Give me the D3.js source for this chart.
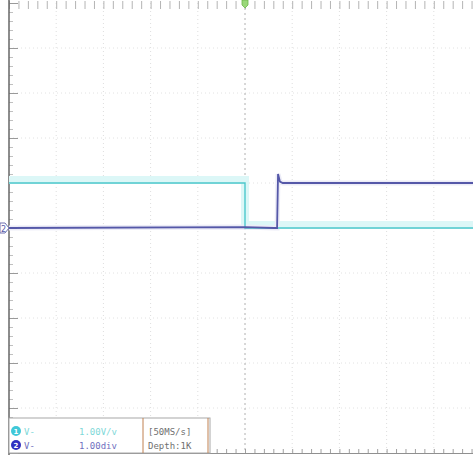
<!DOCTYPE html>
<html>
<head>
<meta charset="utf-8">
<script src="https://cdn.jsdelivr.net/npm/d3@7"></script>
<style>
  html, body { margin: 0; padding: 0; background: #fff; }
  svg { display: block; }
</style>
</head>
<body>
<svg id="scope" width="473" height="457"></svg>
<script>
// Time in divisions relative to the trigger point, amplitude in divisions.
const ch1Time = [-5, 0, 0, 5];
const ch1Volt = [1.0, 1.0, 0.0, 0.0];
const ch2Time = [-5, 0.0, 0.62, 0.68, 0.70, 0.74, 0.80, 5];
const ch2Volt = [0.0, 0.02, 0.0, 0.0, 1.2, 1.03, 1.0, 1.0];
const timeDivs = d3.range(-5, 6);
const voltDivs = d3.range(-5, 6);
const infoCh = ["V-", "V-"];
const infoScale = ["1.00V/v", "1.00div"];
const infoAcq = ["[50MS/s]", "Depth:1K"];

const svg = d3.select("#scope");
const x = d3.scaleLinear().domain([-5, 5]).range([9, 481]);
const y = d3.scaleLinear().domain([-5, 5]).range([453, 3]);

const grid = svg.append("g");
// vertical graticule
grid.selectAll("line.v").data(timeDivs.filter(d => d > -5 && d !== 0)).join("line")
  .attr("x1", d => x(d)).attr("x2", d => x(d)).attr("y1", 3).attr("y2", 453)
  .attr("stroke", "#dedede").attr("stroke-width", 1).attr("stroke-dasharray", "1,3");
// horizontal graticule
grid.selectAll("line.h").data(voltDivs.filter(d => d > -5 && d < 5)).join("line")
  .attr("x1", 9).attr("x2", 473).attr("y1", d => y(d)).attr("y2", d => y(d))
  .attr("stroke", "#e2e2e2").attr("stroke-width", 1).attr("stroke-dasharray", "1,3");
// centre vertical line
grid.append("line").attr("x1", x(0)).attr("x2", x(0)).attr("y1", 3).attr("y2", 453)
  .attr("stroke", "#b0b0b0").attr("stroke-width", 1).attr("stroke-dasharray", "2,3");

// tick axes along the frame
const minor = d3.range(-5, 5.01, 0.2);
const topAx = d3.axisTop(x).tickValues(minor).tickSize(-8).tickFormat("");
svg.append("g").attr("transform", "translate(0,1)").call(topAx)
  .call(g => g.select(".domain").remove())
  .call(g => g.selectAll("line").attr("stroke", "#b4b4b4"));
const botAx = d3.axisBottom(x).tickValues(minor).tickSize(-4).tickFormat("");
svg.append("g").attr("transform", "translate(0,453)").call(botAx)
  .call(g => g.select(".domain").attr("stroke", "#909090"))
  .call(g => g.selectAll("line").attr("stroke", "#a0a0a0"));
const leftAx = d3.axisLeft(y).tickValues(minor).tickSize(-4).tickFormat("");
svg.append("g").attr("transform", "translate(9,0)").call(leftAx)
  .call(g => g.select(".domain").remove())
  .call(g => g.selectAll("line").attr("stroke", "#c0c0c0"));
const leftMajor = d3.axisLeft(y).tickValues(voltDivs).tickSize(-9).tickFormat("");
svg.append("g").attr("transform", "translate(9,0)").call(leftMajor)
  .call(g => g.select(".domain").remove())
  .call(g => g.selectAll("line").attr("stroke", "#9a9a9a"));
svg.append("line").attr("x1", 9).attr("x2", 9).attr("y1", 0).attr("y2", 455)
  .attr("stroke", "#666").attr("stroke-width", 1.5);

// traces
const line1 = d3.line().x(d => x(d[0])).y(d => y(d[1]));
const ch1 = ch1Time.map((t, i) => [t, ch1Volt[i]]);
const ch2 = ch2Time.map((t, i) => [t, ch2Volt[i]]);

const defs = svg.append("defs");
defs.append("filter").attr("id", "soft").append("feGaussianBlur").attr("stdDeviation", 0.5);

svg.append("path").datum(ch1).attr("d", line1).attr("fill", "none")
  .attr("stroke", "#dcf7f7").attr("stroke-width", 8)
  .attr("transform", "translate(0,-3)");
svg.append("path").datum(ch2).attr("d", line1).attr("fill", "none")
  .attr("stroke", "#ececf7").attr("stroke-width", 5);
svg.append("path").datum(ch1).attr("d", line1).attr("fill", "none")
  .attr("stroke", "#4cc8cc").attr("stroke-width", 1.4).attr("filter", "url(#soft)");
svg.append("path").datum(ch2).attr("d", line1).attr("fill", "none")
  .attr("stroke", "#5458a8").attr("stroke-width", 1.8).attr("filter", "url(#soft)");

// trigger marker
svg.append("path")
  .attr("d", `M${x(0) - 3},0 h6 v5 l-3,3 l-3,-3 z`)
  .attr("fill", "#9ad87a").attr("stroke", "#6cb84c").attr("stroke-width", 0.8);

// channel 2 ground marker
svg.append("path")
  .attr("d", `M0,${y(0) - 5} h5 l4,5 l-4,5 h-5 z`)
  .attr("fill", "#fff").attr("stroke", "#7070b0").attr("stroke-width", 1);
svg.append("text").attr("x", 3.5).attr("y", y(0) + 3.5).attr("text-anchor", "middle")
  .attr("font-family", "DejaVu Sans, sans-serif").attr("font-size", 8).attr("fill", "#5458a8").text("2");

// info panel
const info = svg.append("g");
info.append("rect").attr("x", 9).attr("y", 418).attr("width", 201).attr("height", 35)
  .attr("fill", "#fff").attr("stroke", "#a8a8a8").attr("stroke-width", 1);
info.append("line").attr("x1", 143).attr("x2", 143).attr("y1", 418).attr("y2", 453)
  .attr("stroke", "#c08050").attr("stroke-width", 1);
info.append("line").attr("x1", 208).attr("x2", 208).attr("y1", 418).attr("y2", 453)
  .attr("stroke", "#c08050").attr("stroke-width", 1);
const rowY = [435, 449];
const chColors = ["#40c8d8", "#3030c0"];
const textColors = ["#80d8d8", "#7070c0"];
rowY.forEach((ry, i) => {
  info.append("circle").attr("cx", 16).attr("cy", ry - 4).attr("r", 5).attr("fill", chColors[i]);
  info.append("text").attr("x", 16).attr("y", ry - 1).attr("text-anchor", "middle")
    .attr("font-family", "DejaVu Sans, sans-serif").attr("font-size", 7).attr("font-weight", "bold")
    .attr("fill", "#fff").text(i + 1);
  info.append("text").attr("x", 24).attr("y", ry).attr("font-family", "DejaVu Sans Mono, monospace")
    .attr("font-size", 9).attr("fill", textColors[i]).text(infoCh[i]);
  info.append("text").attr("x", 79).attr("y", ry).attr("font-family", "DejaVu Sans Mono, monospace")
    .attr("font-size", 9).attr("fill", textColors[i]).text(infoScale[i]);
  info.append("text").attr("x", 148).attr("y", ry).attr("font-family", "DejaVu Sans Mono, monospace")
    .attr("font-size", 9).attr("fill", "#707070").text(infoAcq[i]);
});
</script>
</body>
</html>
